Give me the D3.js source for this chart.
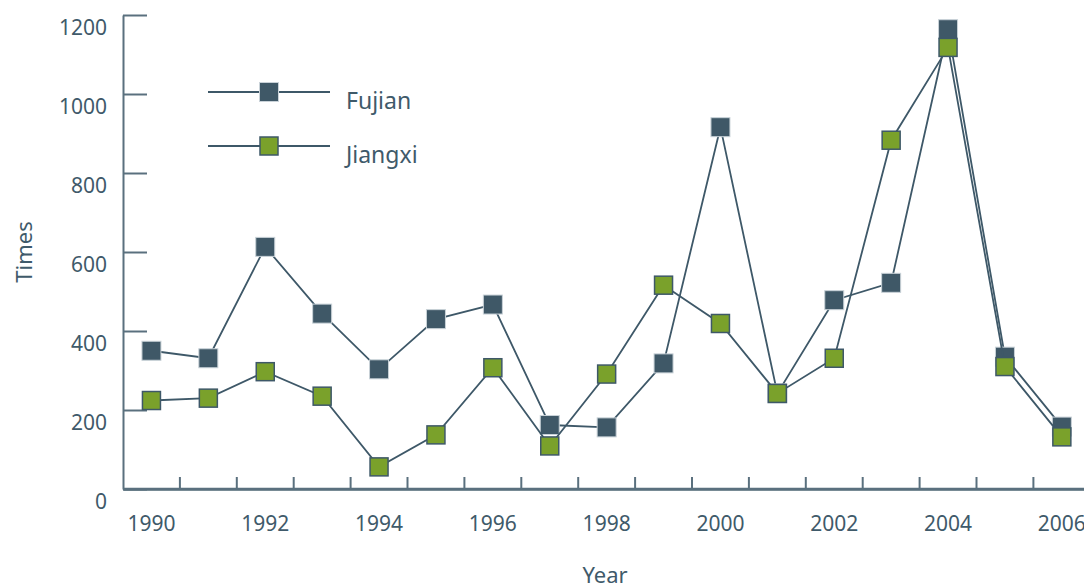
<!DOCTYPE html>
<html>
<head>
<meta charset="utf-8">
<script src="https://cdn.jsdelivr.net/npm/d3@7"></script>
<style>
  body { margin: 0; background: #fff; }
  svg text { font-family: "Noto Sans", "Open Sans", sans-serif; fill: #3f5a6a; }
</style>
</head>
<body>
<svg id="chart" width="1084" height="586"></svg>
<script>
var years = d3.range(1990, 2007);
var fujian = [350, 331, 613, 444, 303, 430, 467, 162, 156, 318, 916, 242, 478, 522, 1164, 335, 158];
var jiangxi = [224, 230, 297, 235, 56, 137, 307, 109, 291, 516, 419, 242, 331, 883, 1118, 310, 132];
var seriesNames = ["Fujian", "Jiangxi"];
var yTicks = [0, 200, 400, 600, 800, 1000, 1200];

var axisColor = "#5a707e";
var lineColor = "#3e5868";
var fujianFill = "#3f5867";
var jiangxiFill = "#7aa12b";

var svg = d3.select("#chart");

var x = d3.scaleBand().domain(years).range([123, 123 + 17 * 56.9]).padding(0);
var y = d3.scaleLinear().domain([0, 1200]).range([489, 15]);
var bw = x.bandwidth();

// y axis, ticks pointing inward
var yAxis = svg.append("g")
    .attr("transform", "translate(123,0)")
    .call(d3.axisLeft(y).tickValues(yTicks).tickSize(-24).tickSizeOuter(0).tickPadding(16)
        .tickFormat(d3.format("d")));
yAxis.selectAll("path, line").attr("stroke", axisColor).attr("stroke-width", 2);
yAxis.selectAll("text")
    .attr("dy", "0.95em")
    .style("font-size", "21px")
    .attr("fill", "#3f5a6a");

// x axis, ticks on band boundaries, labels every other year
var xAxis = svg.append("g")
    .attr("transform", "translate(0,489)")
    .call(d3.axisBottom(x).tickSize(-12).tickSizeOuter(0).tickPadding(27)
        .tickFormat(function(d) { return d % 2 == 0 ? d : ""; }));
xAxis.select("path").attr("stroke", axisColor).attr("stroke-width", 2.5);
xAxis.selectAll("line")
    .attr("stroke", axisColor).attr("stroke-width", 2)
    .attr("transform", "translate(" + bw / 2 + ",0)");
xAxis.selectAll("text")
    .style("font-size", "21px")
    .attr("fill", "#3f5a6a");
// x axis line runs to the edge
svg.append("line")
    .attr("x1", 123).attr("x2", 1084)
    .attr("y1", 489).attr("y2", 489)
    .attr("stroke", axisColor).attr("stroke-width", 2.5);

// axis titles
svg.append("text")
    .attr("transform", "translate(32,252) rotate(-90)")
    .attr("text-anchor", "middle")
    .style("font-size", "22px")
    .text("Times");
svg.append("text")
    .attr("x", 605).attr("y", 583)
    .attr("text-anchor", "middle")
    .style("font-size", "22px")
    .text("Year");

var line = d3.line()
    .x(function(d, i) { return x(years[i]) + bw / 2; })
    .y(function(d) { return y(d); });

function drawSeries(values, fill, stroke, sw, size) {
    svg.append("path")
        .datum(values)
        .attr("d", line)
        .attr("fill", "none")
        .attr("stroke", lineColor)
        .attr("stroke-width", 1.8);
    svg.append("g").selectAll("rect")
        .data(values)
        .join("rect")
        .attr("x", function(d, i) { return x(years[i]) + bw / 2 - size / 2; })
        .attr("y", function(d) { return y(d) - size / 2; })
        .attr("width", size)
        .attr("height", size)
        .attr("fill", fill)
        .attr("stroke", stroke)
        .attr("stroke-width", sw);
}

drawSeries(fujian, fujianFill, "#c9d2d8", 1, 19);
drawSeries(jiangxi, jiangxiFill, lineColor, 1.5, 18);

// legend
var legend = [
    { name: seriesNames[0], y: 92, fill: fujianFill, stroke: "#c9d2d8", sw: 1, size: 19 },
    { name: seriesNames[1], y: 146, fill: jiangxiFill, stroke: lineColor, sw: 1.5, size: 18 }
];
legend.forEach(function(l) {
    svg.append("line")
        .attr("x1", 208).attr("x2", 330)
        .attr("y1", l.y).attr("y2", l.y)
        .attr("stroke", lineColor).attr("stroke-width", 1.8);
    svg.append("rect")
        .attr("x", 269 - l.size / 2).attr("y", l.y - l.size / 2)
        .attr("width", l.size).attr("height", l.size)
        .attr("fill", l.fill).attr("stroke", l.stroke).attr("stroke-width", l.sw);
    svg.append("text")
        .attr("x", 346).attr("y", l.y + 17)
        .style("font-size", "23px")
        .text(l.name);
});
</script>
</body>
</html>
